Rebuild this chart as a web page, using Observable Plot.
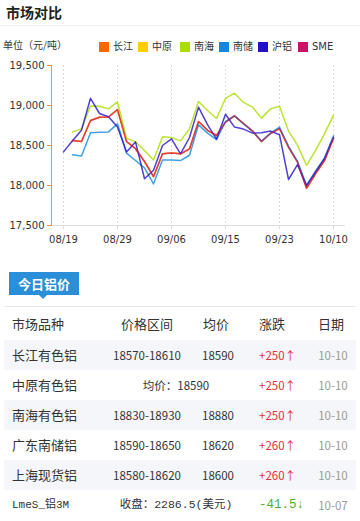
<!DOCTYPE html>
<html><head><meta charset="utf-8">
<script src="https://cdn.jsdelivr.net/npm/d3@7"></script>
<script src="https://cdn.jsdelivr.net/npm/@observablehq/plot@0.6"></script>
<style>
body{margin:0;width:360px;height:521px;position:relative;background:#fff;font-family:"Noto Sans CJK SC","Noto Sans",sans-serif;color:#333;overflow:hidden}
.abs{position:absolute}
.cell{position:absolute;top:0;line-height:30px;white-space:nowrap}
.c{transform:translateX(-50%)}
</style></head><body>
<div class="abs" style="left:6px;top:1px;font-size:14px;font-weight:bold;color:#222;line-height:22px">市场对比</div>
<div class="abs" style="left:0;top:25px;width:360px;height:1px;background:#eeeeee"></div>
<div class="abs" style="left:3px;top:38px;font-size:10px;line-height:14px;color:#333">单位（元/吨）</div>
<div id="legend" class="abs" style="left:99px;top:40px;height:14px;font-family:'DejaVu Sans','Noto Sans CJK SC',sans-serif;font-size:10px;line-height:14px"></div>
<div id="chart" class="abs" style="left:0;top:55px"></div>
<div class="abs" style="left:9px;top:272px;width:70px;height:23px;background:#2a8fd8;color:#fff;font-weight:bold;font-size:13px;text-align:center;line-height:23px">今日铝价</div>
<div class="abs" style="left:39px;top:295px;width:0;height:0;border-left:4px solid transparent;border-right:4px solid transparent;border-top:4px solid #2a8fd8"></div>
<div class="abs" style="left:4px;top:306px;width:352px;height:1px;background:#e6e8ee"></div>
<div id="table"></div>
<script>
// ---- chart data ----
const dates = ["08/19","08/20","08/21","08/22","08/23","08/26","08/29","08/30","09/02","09/03","09/04","09/05","09/06","09/09","09/10","09/11","09/12","09/13","09/15","09/16","09/17","09/18","09/19","09/20","09/23","09/24","09/25","09/26","09/27","09/30","10/10"];
const xTicks = ["08/19","08/29","09/06","09/15","09/23","10/10"];
const yTicks = [17500,18000,18500,19000,19500];
const seriesNames = ["长江","中原","南海","南储","沪铝","SME"];
const seriesColors = ["#ff6600","#ffcc00","#aadd00","#1188dd","#2211cc","#cc1166"];
const changjiang = [null,18562,18550,18812,18854,18856,18950,18550,18460,18300,18110,18396,18405,18396,18458,18800,18690,18625,18792,18870,18775,18680,18550,18650,18712,18479,18292,17965,18146,18312,18590];
const zhongyuan  = [null,18562,18550,18812,18854,18856,18950,18550,18460,18300,18110,18396,18405,18396,18458,18800,18690,18625,18792,18870,18775,18680,18550,18650,18712,18479,18292,17965,18146,18312,18590];
const nanhai     = [null,18670,18708,18995,18990,18958,19045,18592,18545,18437,18320,18608,18600,18558,18710,19050,18937,18838,19088,19154,19038,18979,18842,18958,18990,18680,18505,18252,18437,18646,18880];
const nanchu     = [null,18385,18370,18658,18667,18670,18771,18405,18312,18220,18020,18318,18320,18312,18378,18760,18655,18573,18800,18870,18771,18680,18555,18655,18730,18490,18300,18005,18180,18345,18620];
const hulv       = [18420,18560,18690,19090,18900,18860,18730,18420,18545,18085,18190,18500,18583,18396,18600,18980,18760,18580,18890,18730,18705,18655,18660,18680,18635,18075,18262,17995,18167,18335,18600];
const sme        = [null,18562,18550,18812,18854,18856,18950,18550,18460,18300,18110,18396,18405,18396,18458,18800,18690,18625,18792,18870,18775,18680,18550,18650,18712,18479,18292,17965,18146,18312,18590];
const seriesValues = [changjiang, zhongyuan, nanhai, nanchu, hulv, sme];
const drawOrder = ["中原","长江","南海","南储","沪铝","SME"];

// ---- table data ----
const tblHeader = ["市场品种","价格区间","均价","涨跌","日期"];
const tblNames = ["长江有色铝","中原有色铝","南海有色铝","广东南储铝","上海现货铝","LmeS_铝3M"];
const tblRanges = ["18570-18610",null,"18830-18930","18590-18650","18580-18620",null];
const tblAvgs = ["18590",null,"18880","18620","18600",null];
const tblMerged = [null,"均价：18590",null,null,null,"收盘：2286.5(美元)"];
const tblChanges = ["+250","+250","+250","+260","+260","-41.5"];
const tblDates = ["10-10","10-10","10-10","10-10","10-10","10-07"];

// legend
const leg = document.getElementById("legend");
const legLefts = [0,39,81,120,159,199];
seriesNames.forEach((n,i)=>{
  const d = document.createElement("div");
  d.style.cssText = `position:absolute;left:${legLefts[i]}px;top:0;display:flex;align-items:center;white-space:nowrap;color:#333`;
  d.innerHTML = `<span style="display:inline-block;width:10px;height:10px;background:${seriesColors[i]};margin-right:4px"></span>${n}`;
  leg.appendChild(d);
});

const rows = [];
seriesNames.forEach((n,i)=>seriesValues[i].forEach((v,j)=>rows.push({name:n,date:dates[j],value:v})));

const chart = Plot.plot({
  width:360, height:200,
  marginTop:10, marginBottom:30, marginLeft:51, marginRight:15,
  style:{fontFamily:"DejaVu Sans, sans-serif", fontSize:"10px", color:"#333", background:"transparent", overflow:"visible"},
  x:{type:"point", domain:dates, padding:0, insetLeft:5, insetRight:5},
  y:{domain:[17500,19500]},
  color:{domain:seriesNames, range:seriesColors},
  marks:[
    Plot.gridX(xTicks, {stroke:"#dcdcdc", strokeOpacity:1, strokeDasharray:"2,2"}),
    Plot.ruleY([17500], {stroke:"#dddddd"}),
    Plot.axisX(xTicks, {tickSize:4, stroke:"#dcdcdc", fill:"#333", tickPadding:6, label:null}),
    Plot.axisY(yTicks, {tickSize:4, tickPadding:3, stroke:"#f7913d", fill:"#333", tickFormat:d3.format(","), label:null}),
    Plot.frame({anchor:"left", stroke:"#f7913d"}),
    ...drawOrder.map(n=>Plot.lineY(rows.filter(r=>r.name===n), {x:"date", y:"value", stroke:"name", strokeWidth:1.5, strokeOpacity:n==="SME"?0.6:0.8}))
  ]
});
document.getElementById("chart").appendChild(chart);

// table
const tbl = document.getElementById("table");
const hdr = document.createElement("div");
hdr.className = "abs";
hdr.style.cssText = "left:0;top:309px;width:360px;height:30px;font-size:13px;color:#333";
const hdrPos = [[12,false],[147,true],[216,true],[272,true],[331,true]];
tblHeader.forEach((t,i)=>{
  const s = document.createElement("span");
  s.className = "cell" + (hdrPos[i][1] ? " c" : "");
  s.style.left = hdrPos[i][0] + "px";
  s.textContent = t;
  hdr.appendChild(s);
});
tbl.appendChild(hdr);

tblNames.forEach((n,i)=>{
  const r = document.createElement("div");
  r.className = "abs";
  r.style.cssText = `left:4px;top:${340+30*i}px;width:352px;height:30px;background:${i%2===0?"#f5f6fa":"#fff"}`;
  const mono = i===5;
  const add = (txt, left, center, css)=>{
    const s = document.createElement("span");
    s.className = "cell" + (center ? " c" : "");
    s.style.left = (left-4) + "px";
    s.style.cssText += css || "";
    s.textContent = txt;
    r.appendChild(s);
  };
  add(n, 12, false, mono ? "font-family:'Liberation Mono','Noto Sans CJK SC',monospace;font-size:11px;" : "font-size:13px;");
  const numCss = mono ? "font-family:'Liberation Mono','Noto Sans CJK SC',monospace;font-size:11.5px;" : "font-size:11.5px;";
  if (tblMerged[i]) add(tblMerged[i], 176, true, numCss);
  else { add(tblRanges[i], 147, true, numCss); add(tblAvgs[i], 218, true, numCss); }
  const up = tblChanges[i][0] === "+";
  add(tblChanges[i] + (up ? "↑" : "↓"), 259, false, (mono ? "font-family:'Liberation Mono','Noto Sans CJK SC',monospace;font-size:12.5px;" : "font-size:11.5px;") + `color:${up ? "#e0303c" : "#4caf30"};`);
  add(tblDates[i], 333, true, "font-size:11.5px;color:#999;");
  tbl.appendChild(r);
});
</script>
</body></html>
